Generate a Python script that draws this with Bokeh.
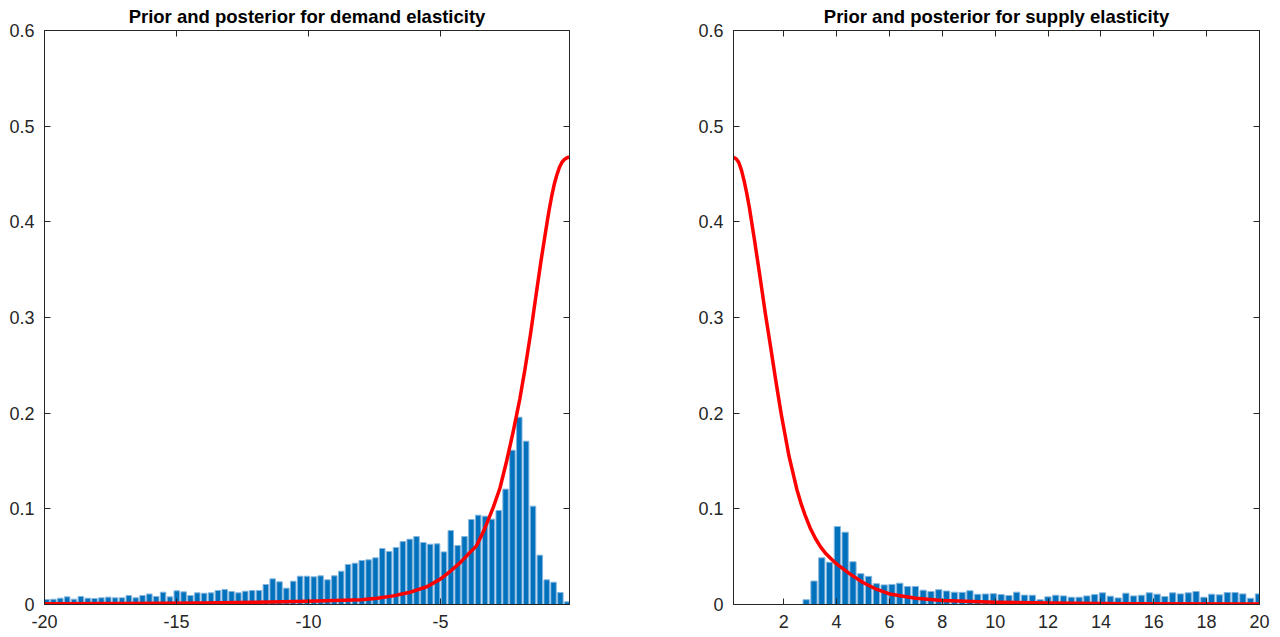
from bokeh.plotting import figure
from bokeh.layouts import row
from bokeh.models import Range1d, FixedTicker, LinearAxis, CustomLabelingPolicy
from bokeh.embed import file_html
from bokeh.resources import INLINE

# ---------------- data ----------------
demand_bin_start = -19.92      # centre of first histogram bin
demand_bin_width = 0.2594
demand_density = [
    0.0052, 0.0055, 0.0066, 0.0080, 0.0056, 0.0084, 0.0066, 0.0063, 0.0070, 0.0077,
    0.0070, 0.0070, 0.0094, 0.0070, 0.0094, 0.0110, 0.0084, 0.0129, 0.0080, 0.0143,
    0.0132, 0.0094, 0.0122, 0.0118, 0.0122, 0.0146, 0.0157, 0.0136, 0.0122, 0.0139,
    0.0146, 0.0146, 0.0209, 0.0268, 0.0237, 0.0171, 0.0244, 0.0296, 0.0296, 0.0289,
    0.0300, 0.0258, 0.0300, 0.0348, 0.0418, 0.0432, 0.0460, 0.0467, 0.0488, 0.0585,
    0.0554, 0.0596, 0.0658, 0.0683, 0.0711, 0.0648, 0.0630, 0.0634, 0.0550, 0.0773,
    0.0617, 0.0711, 0.0888, 0.0934, 0.0923, 0.0892, 0.0983, 0.1206, 0.1613, 0.1958,
    0.1707, 0.1028, 0.0516, 0.0258, 0.0233, 0.0125, 0.0028,
]

supply_bin_start = 2.85
supply_bin_width = 0.295
supply_density = [
    0.0050, 0.0245, 0.0488, 0.0442, 0.0815, 0.0756, 0.0447, 0.0322, 0.0294, 0.0218,
    0.0205, 0.0210, 0.0223, 0.0188, 0.0188, 0.0150, 0.0136, 0.0155, 0.0141, 0.0129,
    0.0127, 0.0144, 0.0107, 0.0110, 0.0113, 0.0104, 0.0094, 0.0129, 0.0098, 0.0097,
    0.0050, 0.0080, 0.0097, 0.0090, 0.0076, 0.0076, 0.0090, 0.0104, 0.0122, 0.0087,
    0.0069, 0.0118, 0.0090, 0.0097, 0.0122, 0.0108, 0.0083, 0.0122, 0.0111, 0.0122,
    0.0136, 0.0076, 0.0108, 0.0101, 0.0125, 0.0125, 0.0111, 0.0065, 0.0111,
]

demand_prior_x = [-20, -17, -14, -12, -10, -9, -8, -7.4, -6.8, -6.2, -5.5, -5.0, -4.6,
                  -4.25, -3.9, -3.65, -3.35, -3.0, -2.75, -2.5, -2.25, -2.0, -1.8, -1.6,
                  -1.4, -1.2, -1.0, -0.9, -0.8, -0.7, -0.6, -0.5, -0.4, -0.3, -0.2, -0.12]
demand_prior_y = [0.0008, 0.0010, 0.0015, 0.0023, 0.0035, 0.0042, 0.0050, 0.0066, 0.0090,
                  0.0125, 0.0188, 0.0268, 0.0355, 0.0440, 0.0540, 0.0610, 0.0780, 0.1020,
                  0.1220, 0.1500, 0.1810, 0.2150, 0.2470, 0.2820, 0.3210, 0.3590, 0.3940,
                  0.4110, 0.4260, 0.4390, 0.4490, 0.4570, 0.4625, 0.4655, 0.4672, 0.4676]

supply_prior_x = [0.1, 0.2, 0.3, 0.4, 0.5, 0.6, 0.7, 0.9, 1.1, 1.3, 1.5, 1.7, 1.9, 2.2,
                  2.5, 2.65, 2.8, 3.0, 3.2, 3.4, 3.6, 3.8, 4.0, 4.5, 5.0, 5.5, 6.0, 7.0,
                  8.0, 10.0, 12.0, 15.0, 20.0]
supply_prior_y = [0.4674, 0.4660, 0.4620, 0.4540, 0.4430, 0.4300, 0.4150, 0.3800, 0.3430,
                  0.3050, 0.2700, 0.2340, 0.2000, 0.1550, 0.1200, 0.1060, 0.0940, 0.0800,
                  0.0690, 0.0600, 0.0530, 0.0475, 0.0425, 0.0320, 0.0230, 0.0160, 0.0110,
                  0.0065, 0.0042, 0.0024, 0.0015, 0.0009, 0.0005]

y_ticks = [0, 0.1, 0.2, 0.3, 0.4, 0.5, 0.6]
y_tick_labels = ["0", "0.1", "0.2", "0.3", "0.4", "0.5", "0.6"]
demand_x_ticks = [-20, -15, -10, -5]
demand_x_tick_labels = ["-20", "-15", "-10", "-5"]
supply_x_ticks = [2, 4, 6, 8, 10, 12, 14, 16, 18, 20]
supply_x_tick_labels = ["2", "4", "6", "8", "10", "12", "14", "16", "18", "20"]

titles = ["Prior and posterior for demand elasticity",
          "Prior and posterior for supply elasticity"]

# ---------------- styling ----------------
BAR = "#0072BD"
AX = "#262626"
FONT = "Liberation Sans"

NO_LABELS = CustomLabelingPolicy(code="""
for (const i of indices) {
    indices.unset(i)
}
return indices
""")


def style_axis(ax, ticks, labels, show_labels):
    ax.ticker = FixedTicker(ticks=ticks)
    ax.major_tick_in = 6
    ax.major_tick_out = 0
    ax.minor_tick_in = 0
    ax.minor_tick_out = 0
    ax.axis_line_color = AX
    ax.major_tick_line_color = AX
    ax.major_label_text_color = AX
    ax.major_label_text_font = FONT
    if show_labels:
        ax.major_label_text_font_size = "18px"
        ax.major_label_overrides = {t: l for t, l in zip(ticks, labels)}
        ax.major_label_standoff = 10
    else:
        ax.major_label_text_font_size = "1px"
        ax.major_label_policy = NO_LABELS
        ax.major_label_standoff = 0


def make_panel(title, xr, xticks, xlabels, centers, heights, bw, px, py,
               width, bl, br):
    p = figure(width=width, height=637, x_range=xr, y_range=Range1d(0, 0.6),
               output_backend="svg", toolbar_location=None,
               min_border_left=bl, min_border_right=br,
               min_border_top=30, min_border_bottom=33)
    p.title.text = title
    p.title.text_font = FONT
    p.title.text_font_style = "bold"
    p.title.text_font_size = "18.5px"
    p.title.align = "center"
    p.title.text_color = "black"
    p.title.standoff = 0
    p.xgrid.visible = False
    p.ygrid.visible = False
    p.outline_line_color = AX
    p.background_fill_color = "white"
    p.border_fill_color = "white"

    p.vbar(x=centers, top=heights, bottom=0, width=bw * 0.8,
           fill_color=BAR, line_color="#86b6de", line_width=1)
    p.line(px, py, line_color="#FF0000", line_width=3.5, line_join="round")

    style_axis(p.xaxis[0], xticks, xlabels, True)
    style_axis(p.yaxis[0], y_ticks, y_tick_labels, True)
    top_ax = LinearAxis()
    right_ax = LinearAxis()
    style_axis(top_ax, xticks, xlabels, False)
    style_axis(right_ax, y_ticks, y_tick_labels, False)
    p.add_layout(top_ax, "above")
    p.add_layout(right_ax, "right")
    return p


demand_centers = [demand_bin_start + i * demand_bin_width for i in range(len(demand_density))]
supply_centers = [supply_bin_start + i * supply_bin_width for i in range(len(supply_density))]

p1 = make_panel(titles[0], Range1d(-20, -0.12), demand_x_ticks, demand_x_tick_labels,
                demand_centers, demand_density, demand_bin_width,
                demand_prior_x, demand_prior_y, 640, 44, 71)
p2 = make_panel(titles[1], Range1d(0.1, 20), supply_x_ticks, supply_x_tick_labels,
                supply_centers, supply_density, supply_bin_width,
                supply_prior_x, supply_prior_y, 640, 93, 21)

layout = row(p1, p2)
open("out.html", "w").write(file_html(layout, INLINE))
